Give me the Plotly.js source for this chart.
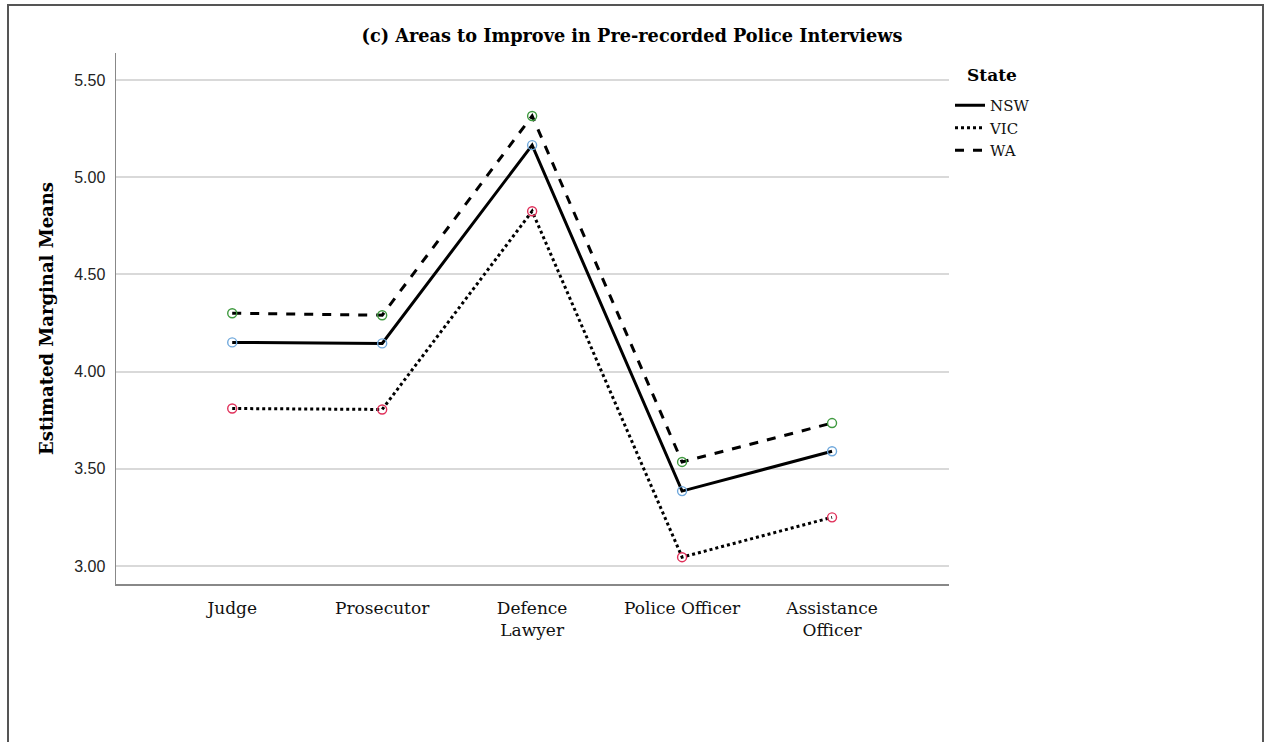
<!DOCTYPE html>
<html>
<head>
<meta charset="utf-8">
<script src="https://cdn.plot.ly/plotly-3.0.1.min.js"></script>
<style>html,body{margin:0;padding:0;background:#fff;}#chart{width:1265px;height:742px;}</style>
</head>
<body>
<div id="chart"></div>
<script>
const categories = ["Judge", "Prosecutor", "Defence<br>Lawyer", "Police Officer", "Assistance<br>Officer"];
const nswValues = [4.15, 4.145, 5.165, 3.385, 3.59];
const vicValues = [3.81, 3.805, 4.825, 3.045, 3.25];
const waValues = [4.30, 4.29, 5.315, 3.535, 3.735];
const yTickVals = [3.0, 3.5, 4.0, 4.5, 5.0, 5.5];
const yTickText = ["3.00", "3.50", "4.00", "4.50", "5.00", "5.50"];
const legendTitle = "State";

const xIdx = categories.map((c, i) => i);
const series = [
  {name: "NSW", y: nswValues, dash: "solid", mc: "#6fa8dc"},
  {name: "VIC", y: vicValues, dash: "dot", mc: "#e0305a"},
  {name: "WA", y: waValues, dash: "dash", mc: "#3f9a3f"}
];
const traces = [];
series.forEach(s => {
  traces.push({x: xIdx, y: s.y, name: s.name, type: "scatter", mode: "lines",
    line: {color: "#000", width: 3, dash: s.dash}, hoverinfo: "skip"});
});
series.forEach(s => {
  traces.push({x: xIdx, y: s.y, name: s.name, type: "scatter", mode: "markers", showlegend: false,
    marker: {symbol: "circle-open", size: 9, color: s.mc, line: {width: 1.4, color: s.mc}}});
});

const L = 116, R = 949, T = 53, B = 584, W = 1265, H = 742;
const pw = R - L, ph = B - T;
const px = v => (v - L) / pw;
const py = v => (B - v) / ph;
const serif = "DejaVu Serif, serif";

const layout = {
  width: W, height: H,
  margin: {l: L, r: W - R, t: T, b: H - B},
  paper_bgcolor: "#fff", plot_bgcolor: "#fff",
  title: {text: "<b>(c) Areas to Improve in Pre-recorded Police Interviews</b>",
    font: {family: serif, size: 17.7, color: "#000"},
    x: 632 / W, xref: "container", xanchor: "center", y: 1 - 36 / H, yref: "container", yanchor: "middle"},
  xaxis: {range: [-0.775, 4.78], tickvals: xIdx, ticktext: categories,
    showgrid: false, zeroline: false, showline: true, linecolor: "#888", linewidth: 1.5,
    ticks: "", ticklabelstandoff: 8, tickfont: {family: serif, size: 17, color: "#111"}, fixedrange: true},
  yaxis: {range: [2.907, 5.639], tickvals: yTickVals, ticktext: yTickText,
    showgrid: true, gridcolor: "#d9d9d9", gridwidth: 2, zeroline: false,
    showline: true, linecolor: "#888", linewidth: 1.5, ticks: "", ticklabelstandoff: 6,
    tickfont: {family: "Liberation Sans, Arial, sans-serif", size: 16, color: "#222"},
    title: {text: "<b>Estimated Marginal Means</b>", font: {family: serif, size: 18, color: "#000"}, standoff: 16},
    fixedrange: true},
  legend: {x: px(950), y: py(89), xanchor: "left", yanchor: "top",
    font: {family: serif, size: 15, color: "#111"},
    bgcolor: "rgba(0,0,0,0)", tracegroupgap: 0, itemwidth: 30},
  annotations: [{text: "<b>" + legendTitle + "</b>", xref: "paper", yref: "paper", x: px(992), y: py(75),
    xanchor: "center", yanchor: "middle", showarrow: false, font: {family: serif, size: 17, color: "#000"}}],
  shapes: [{type: "rect", xref: "paper", yref: "paper", x0: px(8), x1: px(1263), y0: py(760), y1: py(5),
    line: {color: "#555", width: 2}, fillcolor: "rgba(0,0,0,0)", layer: "below"}],
  showlegend: true
};
Plotly.newPlot("chart", traces, layout, {displayModeBar: false, staticPlot: true});
</script>
</body>
</html>
